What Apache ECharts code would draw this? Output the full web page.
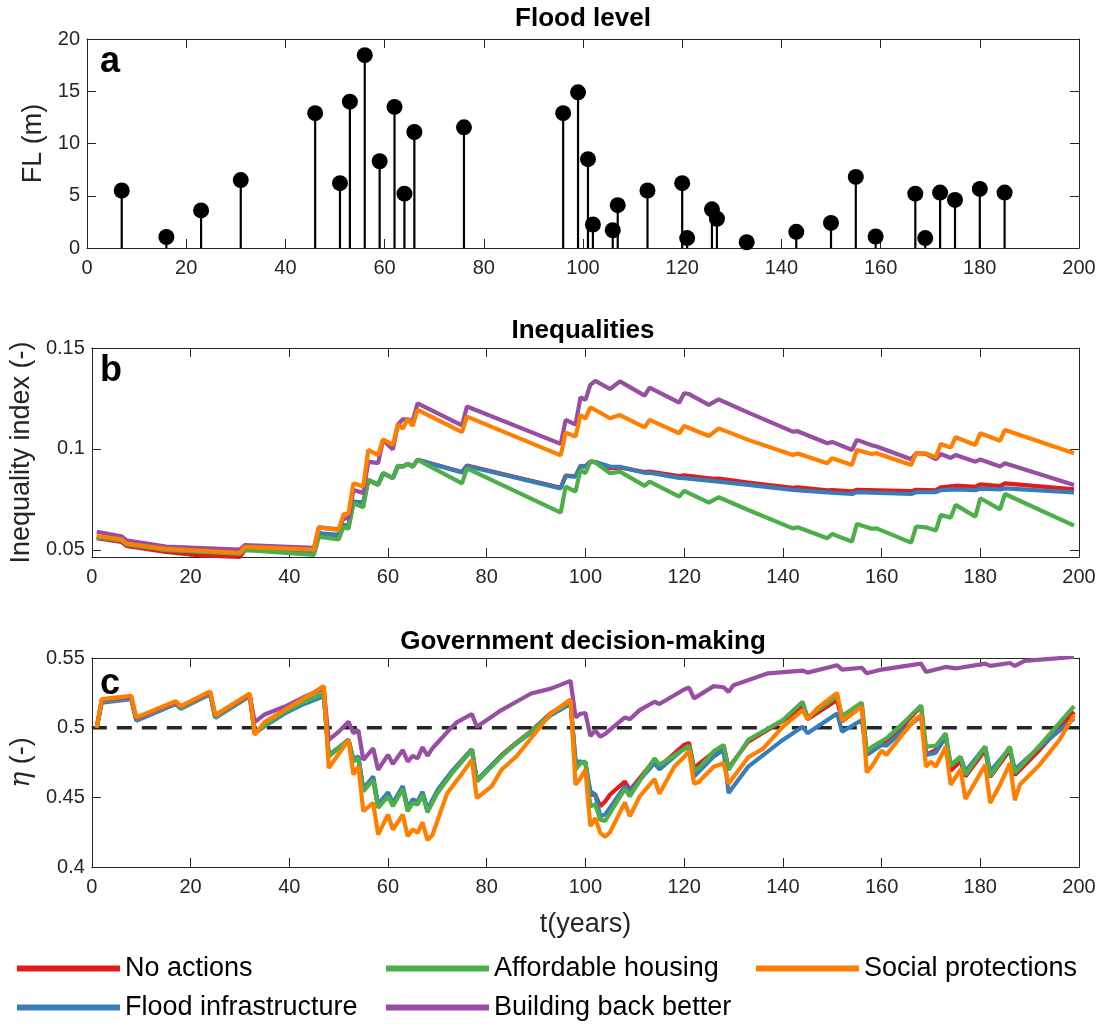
<!DOCTYPE html>
<html><head><meta charset="utf-8">
<script src="https://cdn.jsdelivr.net/npm/echarts@6/dist/echarts.min.js"></script>
<style>html,body{margin:0;padding:0;background:#fff}#c{width:1100px;height:1025px}</style>
</head><body><div id="c"></div>
<script>
// ---------- DATA ----------
const floodYears  = [7,16,23,31,46,51,53,56,59,62,64,66,76,96,99,101,102,106,107,113,120,121,126,127,133,143,150,155,159,167,169,172,175,180,185];
const floodLevels = [5.5,1.05,3.6,6.5,12.9,6.2,14.0,18.45,8.3,13.5,5.2,11.1,11.55,12.9,14.9,8.5,2.25,1.7,4.1,5.5,6.2,0.95,3.7,2.8,0.55,1.55,2.4,6.8,1.1,5.2,0.95,5.3,4.6,5.65,5.3];
const flTicks = [0,5,10,15,20];
const ineqTicks = [0.05,0.1,0.15];
const etaTicks = [0.4,0.45,0.5,0.55];
const etaThreshold = 0.5;
const seriesNames = ['No actions','Flood infrastructure','Affordable housing','Building back better','Social protections'];

// Inequality index (panel b) [t, value]
const ineqNoActions = [[1,0.0558],[6,0.0540],[7,0.0520],[15,0.0490],[22,0.0473],[30,0.0466],[31,0.0500],[45,0.0490],[46,0.0580],[50,0.0572],[51,0.0622],[52,0.0618],[53,0.0738],[55,0.0733],[56,0.0845],[58,0.0822],[59,0.0880],[61,0.0856],[62,0.0916],[63,0.0913],[64,0.0927],[65,0.0913],[66,0.0947],[75,0.0886],[76,0.0918],[95,0.0808],[96,0.0868],[98,0.0865],[99,0.0916],[100,0.0914],[101,0.0938],[102,0.0935],[105,0.0905],[107,0.0908],[112,0.0885],[113,0.0888],[119,0.0866],[120,0.0870],[126,0.0852],[127,0.0853],[133,0.0833],[142,0.0808],[143,0.0810],[149,0.0795],[150,0.0796],[154,0.0790],[155,0.0798],[166,0.0791],[167,0.0798],[171,0.0795],[172,0.0810],[175,0.0818],[179,0.0812],[180,0.0825],[184,0.0816],[185,0.0830],[199,0.0800]];
const ineqFloodInfra = [[1,0.0563],[6,0.0547],[7,0.0527],[15,0.0500],[30,0.0483],[31,0.0505],[45,0.0493],[46,0.0583],[50,0.0575],[51,0.0625],[52,0.0620],[53,0.0740],[55,0.0735],[56,0.0847],[58,0.0823],[59,0.0880],[61,0.0855],[62,0.0916],[63,0.0912],[64,0.0926],[65,0.0912],[66,0.0946],[75,0.0883],[76,0.0916],[95,0.0805],[96,0.0866],[98,0.0863],[99,0.0915],[100,0.0913],[101,0.0937],[102,0.0935],[105,0.0913],[107,0.0912],[112,0.0882],[113,0.0882],[119,0.0857],[120,0.0856],[127,0.0838],[133,0.0822],[142,0.0797],[149,0.0785],[154,0.0777],[155,0.0786],[166,0.0777],[167,0.0786],[171,0.0786],[172,0.0796],[175,0.0800],[179,0.0796],[180,0.0804],[184,0.0800],[185,0.0805],[199,0.0785]];
const ineqHousing = [[1,0.0563],[6,0.0547],[7,0.0527],[15,0.0500],[30,0.0482],[31,0.0500],[45,0.0475],[46,0.0566],[50,0.0552],[51,0.0615],[52,0.0605],[53,0.0731],[55,0.0711],[56,0.0847],[58,0.0822],[59,0.0880],[61,0.0855],[62,0.0916],[63,0.0912],[64,0.0926],[65,0.0912],[66,0.0946],[75,0.0830],[76,0.0904],[95,0.0685],[96,0.0814],[98,0.0789],[99,0.0896],[100,0.0880],[101,0.0937],[102,0.0933],[105,0.0880],[107,0.0888],[112,0.0817],[113,0.0838],[119,0.0764],[120,0.0792],[125,0.0734],[127,0.0761],[133,0.0698],[142,0.0607],[143,0.0612],[149,0.0558],[150,0.0579],[154,0.0541],[155,0.0629],[158,0.0605],[159,0.0607],[166,0.0536],[167,0.0616],[169,0.0612],[171,0.0596],[172,0.0673],[174,0.0660],[175,0.0723],[179,0.0665],[180,0.0756],[184,0.0701],[185,0.0777],[199,0.0620]];
const ineqBBB = [[1,0.0590],[6,0.0568],[7,0.0547],[15,0.0517],[30,0.0502],[31,0.0524],[45,0.0510],[46,0.0612],[50,0.0602],[51,0.0657],[52,0.0655],[53,0.0797],[55,0.0782],[56,0.0937],[58,0.0930],[59,0.1045],[61,0.0998],[62,0.1120],[63,0.1147],[64,0.1147],[65,0.1138],[66,0.1226],[75,0.1117],[76,0.1210],[95,0.1025],[96,0.1144],[98,0.1120],[99,0.1256],[100,0.1243],[101,0.1317],[102,0.1337],[105,0.1297],[107,0.1335],[112,0.1264],[113,0.1304],[119,0.1229],[120,0.1276],[121,0.1272],[125,0.1218],[127,0.1246],[133,0.1180],[142,0.1086],[143,0.1088],[149,0.1028],[150,0.1035],[154,0.0995],[155,0.1045],[158,0.1018],[159,0.1012],[166,0.0949],[167,0.0979],[169,0.0975],[171,0.0949],[172,0.0975],[174,0.0955],[175,0.0970],[179,0.0937],[180,0.0948],[184,0.0913],[185,0.0929],[199,0.0822]];
const ineqSocial = [[1,0.0569],[6,0.0553],[7,0.0532],[15,0.0505],[30,0.0486],[31,0.0515],[45,0.0502],[46,0.0612],[50,0.0599],[51,0.0677],[52,0.0680],[53,0.0830],[55,0.0814],[56,0.0995],[58,0.0970],[59,0.1048],[61,0.1020],[62,0.1122],[63,0.1100],[64,0.1149],[65,0.1114],[66,0.1193],[75,0.1083],[76,0.1160],[95,0.0968],[96,0.1081],[98,0.1061],[99,0.1168],[100,0.1150],[101,0.1206],[102,0.1193],[105,0.1152],[107,0.1168],[112,0.1107],[113,0.1144],[119,0.1078],[120,0.1114],[125,0.1064],[127,0.1102],[133,0.1045],[142,0.0970],[143,0.0978],[149,0.0929],[150,0.0954],[154,0.0921],[155,0.0995],[158,0.0975],[159,0.0979],[166,0.0921],[167,0.0979],[169,0.0978],[171,0.0959],[172,0.1025],[174,0.1007],[175,0.1058],[179,0.1020],[180,0.1078],[184,0.1041],[185,0.1094],[199,0.0979]];

// Government decision-making eta (panel c) [t, value]
const etaNoActions = [[1,0.500],[2,0.519],[8,0.521],[9,0.506],[17,0.5175],[18,0.514],[24,0.5245],[25,0.5075],[32,0.523],[33,0.496],[35,0.5015],[39,0.5108],[43,0.518],[47,0.524],[48,0.4795],[52,0.4915],[53,0.4765],[54,0.4785],[55,0.4555],[57,0.4635],[58,0.4435],[60,0.452],[61,0.4448],[63,0.457],[64,0.441],[65,0.4472],[66,0.4458],[67,0.4528],[68,0.4405],[70,0.454],[73,0.4684],[77,0.4845],[78,0.462],[81,0.4728],[83,0.4803],[86,0.4893],[89,0.4975],[93,0.5105],[97,0.518],[98,0.4745],[99,0.4748],[100,0.475],[101,0.452],[102,0.452],[103,0.4436],[104,0.447],[105,0.452],[108,0.4614],[109,0.455],[114,0.477],[115,0.472],[120,0.4876],[121,0.489],[122,0.4712],[126,0.4825],[128,0.487],[129,0.471],[133,0.490],[140,0.505],[144,0.515],[145,0.506],[151,0.5198],[152,0.5045],[156,0.5155],[157,0.4805],[160,0.488],[164,0.500],[168,0.5155],[169,0.4805],[171,0.484],[173,0.494],[174,0.469],[176,0.476],[177,0.465],[181,0.484],[182,0.4645],[186,0.484],[187,0.466],[192,0.484],[199,0.5114]];
const etaFloodInfra = [[1,0.500],[2,0.518],[8,0.5205],[9,0.505],[17,0.517],[18,0.5135],[24,0.524],[25,0.507],[32,0.5225],[33,0.496],[35,0.501],[39,0.510],[43,0.517],[47,0.5225],[48,0.4805],[52,0.491],[53,0.477],[54,0.4795],[55,0.456],[57,0.465],[58,0.445],[60,0.4535],[61,0.446],[63,0.458],[64,0.4425],[65,0.4485],[66,0.447],[67,0.454],[68,0.4415],[70,0.455],[73,0.469],[77,0.4845],[78,0.4625],[81,0.473],[83,0.480],[86,0.4885],[89,0.4965],[93,0.509],[97,0.517],[98,0.4757],[99,0.4757],[100,0.4745],[101,0.4543],[102,0.452],[103,0.4364],[104,0.4376],[108,0.4579],[109,0.4543],[114,0.4745],[115,0.470],[120,0.4852],[121,0.4864],[122,0.465],[126,0.4793],[128,0.484],[129,0.4531],[133,0.4721],[140,0.4912],[144,0.5007],[145,0.496],[151,0.5102],[152,0.4971],[156,0.5055],[157,0.4805],[160,0.4876],[161,0.487],[164,0.497],[168,0.5083],[169,0.4805],[171,0.482],[173,0.4935],[174,0.4733],[176,0.479],[177,0.4686],[181,0.4864],[182,0.4686],[186,0.4852],[187,0.470],[192,0.486],[199,0.5067]];
const etaHousing = [[1,0.500],[2,0.519],[8,0.521],[9,0.506],[17,0.5175],[18,0.514],[24,0.5245],[25,0.5075],[32,0.523],[33,0.496],[35,0.502],[39,0.5114],[43,0.5186],[47,0.5245],[48,0.4793],[52,0.4912],[53,0.4757],[54,0.478],[55,0.4543],[57,0.4626],[58,0.4424],[60,0.4507],[61,0.4436],[63,0.456],[64,0.440],[65,0.446],[66,0.4448],[67,0.4519],[68,0.4393],[70,0.453],[73,0.4674],[77,0.484],[78,0.4614],[81,0.4721],[83,0.4793],[86,0.4888],[89,0.4971],[93,0.5102],[97,0.5186],[98,0.4698],[99,0.4745],[100,0.4757],[101,0.4436],[102,0.4448],[103,0.434],[104,0.433],[108,0.456],[109,0.4507],[112,0.4674],[114,0.478],[115,0.4733],[120,0.4845],[121,0.487],[122,0.470],[123,0.471],[126,0.483],[128,0.4876],[129,0.4698],[133,0.4912],[140,0.5055],[144,0.5186],[145,0.5074],[151,0.5226],[152,0.5083],[156,0.518],[157,0.483],[158,0.486],[161,0.4924],[164,0.502],[168,0.516],[169,0.4864],[171,0.487],[173,0.496],[174,0.4726],[176,0.479],[177,0.4662],[181,0.4864],[182,0.465],[186,0.4864],[187,0.4674],[192,0.487],[199,0.5155]];
const etaBBB = [[1,0.500],[2,0.5195],[8,0.5215],[9,0.5065],[17,0.518],[18,0.515],[24,0.525],[25,0.5085],[32,0.5235],[33,0.504],[35,0.5095],[39,0.515],[43,0.522],[47,0.528],[48,0.4912],[50,0.497],[52,0.5043],[53,0.496],[54,0.4983],[55,0.4769],[57,0.4852],[58,0.4698],[60,0.4805],[61,0.474],[63,0.484],[64,0.4757],[65,0.4798],[66,0.478],[67,0.486],[68,0.4798],[69,0.4852],[70,0.489],[73,0.5007],[74,0.504],[77,0.5098],[78,0.5007],[81,0.5079],[83,0.5126],[86,0.5186],[89,0.5245],[93,0.528],[97,0.5336],[98,0.5074],[99,0.510],[100,0.5105],[101,0.494],[102,0.498],[103,0.4936],[104,0.4955],[108,0.5074],[109,0.506],[111,0.5126],[114,0.5186],[115,0.517],[120,0.5274],[121,0.5288],[122,0.521],[126,0.5298],[128,0.529],[129,0.5257],[130,0.5305],[137,0.539],[144,0.541],[145,0.5395],[151,0.5448],[152,0.5417],[156,0.543],[157,0.539],[160,0.5417],[168,0.546],[169,0.540],[173,0.5436],[175,0.5425],[181,0.546],[182,0.5443],[186,0.5464],[187,0.5443],[189,0.548],[199,0.5507]];
const etaSocial = [[1,0.500],[2,0.5205],[8,0.5229],[9,0.5074],[17,0.519],[18,0.5155],[24,0.526],[25,0.509],[32,0.5245],[33,0.4948],[35,0.504],[39,0.5126],[43,0.521],[47,0.5298],[48,0.471],[52,0.4912],[53,0.4662],[54,0.472],[55,0.440],[57,0.446],[58,0.4233],[60,0.4376],[61,0.4269],[63,0.4376],[64,0.4221],[65,0.4269],[66,0.4245],[67,0.4321],[68,0.4193],[69,0.423],[72,0.453],[75,0.467],[77,0.4769],[78,0.4495],[81,0.4579],[83,0.4698],[86,0.4793],[89,0.4924],[93,0.5102],[97,0.5202],[98,0.459],[99,0.4638],[100,0.4698],[101,0.4293],[102,0.435],[103,0.4245],[104,0.4217],[105,0.425],[108,0.4464],[109,0.4364],[111,0.4507],[114,0.463],[115,0.4526],[118,0.472],[120,0.479],[121,0.4836],[122,0.4598],[123,0.4612],[126,0.472],[128,0.4745],[129,0.4598],[133,0.4788],[136,0.485],[140,0.5007],[144,0.5126],[145,0.506],[147,0.514],[151,0.525],[152,0.505],[156,0.515],[157,0.4679],[158,0.472],[160,0.4836],[161,0.4805],[164,0.494],[167,0.5067],[168,0.5085],[169,0.472],[170,0.4755],[171,0.472],[173,0.4864],[174,0.459],[176,0.470],[177,0.4488],[181,0.4733],[182,0.446],[184,0.459],[186,0.4745],[187,0.4479],[188,0.459],[192,0.4733],[196,0.491],[199,0.509]];

// ---------- STYLE ----------
const colors = {'No actions':'#e41a1c','Flood infrastructure':'#377eb8','Affordable housing':'#4daf4a','Building back better':'#984ea3','Social protections':'#ff7f00'};
const FONT = '"Liberation Sans", Arial, Helvetica, sans-serif';
const AX = '#262626';
const L = 87, R = 21, H = 209;
const tops = [39, 348, 658];

const chart = echarts.init(document.getElementById('c'), null, {renderer:'canvas'});

function xAxes(gi){
  return [
    {gridIndex:gi, type:'value', min:0, max:200, interval:20, position:'bottom',
     axisLine:{show:true,onZero:false,lineStyle:{color:AX,width:1}},
     axisTick:{show:true,inside:true,length:9,lineStyle:{color:AX}},
     axisLabel:{show:true,color:AX,fontSize:20,fontFamily:FONT,margin:10},
     splitLine:{show:false},
     name: gi===2 ? 't(years)' : '', nameLocation:'middle', nameGap:44,
     nameTextStyle:{fontSize:27,color:AX,fontFamily:FONT}},
    {gridIndex:gi, type:'value', min:0, max:200, interval:20, position:'top',
     axisLine:{show:true,onZero:false,lineStyle:{color:AX,width:1}},
     axisTick:{show:true,inside:true,length:9,lineStyle:{color:AX}},
     axisLabel:{show:false}, splitLine:{show:false}}
  ];
}
function yAxes(gi, cfg){
  const base = {gridIndex:gi, type:'value', min:cfg.min, max:cfg.max,
     axisLine:{show:true,onZero:false,lineStyle:{color:AX,width:1}},
     splitLine:{show:false}};
  return [
    Object.assign({}, base, {position:'left',
      axisTick:{show:true,inside:true,length:9,lineStyle:{color:AX},customValues:cfg.ticks},
      axisLabel:{show:true,color:AX,fontSize:20,fontFamily:FONT,margin:7,customValues:cfg.ticks,
        formatter:v=>String(+v.toFixed(4))},
      name:cfg.name, nameLocation:'middle', nameGap:cfg.gap, nameRotate:90,
      nameTextStyle:{fontSize:27,color:AX,fontFamily:FONT,rich:cfg.rich}}),
    Object.assign({}, base, {position:'right',
      axisTick:{show:true,inside:true,length:9,lineStyle:{color:AX},customValues:cfg.ticks},
      axisLabel:{show:false}})
  ];
}

const xAxis = [].concat(xAxes(0), xAxes(1), xAxes(2));
const yAxis = [].concat(
  yAxes(0,{min:0,max:20,ticks:flTicks,name:'FL (m)',gap:33}),
  yAxes(1,{min:0.0465,max:0.15,ticks:ineqTicks,name:'Inequality index (-)',gap:50}),
  yAxes(2,{min:0.4,max:0.55,ticks:etaTicks,name:'{eta|η} (-)',gap:43,
    rich:{eta:{fontStyle:'italic',fontFamily:'"DejaVu Serif", "Liberation Serif", serif',fontSize:27,color:AX}}})
);

const stemData = floodYears.map((t,i)=>[t, floodLevels[i]]);
const series = [
  {type:'custom', xAxisIndex:0, yAxisIndex:0, data:stemData, silent:true,
   renderItem:(params, api)=>{
     const p0 = api.coord([api.value(0), 0]);
     const p1 = api.coord([api.value(0), api.value(1)]);
     return {type:'line', shape:{x1:p0[0],y1:p0[1],x2:p1[0],y2:p1[1]}, style:{stroke:'#000',lineWidth:2.2}};
   }},
  {type:'scatter', xAxisIndex:0, yAxisIndex:0, data:stemData, symbol:'circle', symbolSize:16,
   itemStyle:{color:'#000', opacity:1}, silent:true, z:3}
];
const ineqData = {'No actions':ineqNoActions,'Flood infrastructure':ineqFloodInfra,'Affordable housing':ineqHousing,'Building back better':ineqBBB,'Social protections':ineqSocial};
const etaData = {'No actions':etaNoActions,'Flood infrastructure':etaFloodInfra,'Affordable housing':etaHousing,'Building back better':etaBBB,'Social protections':etaSocial};
seriesNames.forEach(n=>{
  series.push({type:'line', name:n, xAxisIndex:2, yAxisIndex:2, data:ineqData[n], showSymbol:false,
    color:colors[n], lineStyle:{width:4.2,color:colors[n]}, itemStyle:{color:colors[n]}, clip:true, silent:true});
});
series.push({type:'line', xAxisIndex:4, yAxisIndex:4, data:[[0,etaThreshold],[200,etaThreshold]], showSymbol:false,
  lineStyle:{color:AX,width:3.5,type:[15,10]}, silent:true, z:1});
seriesNames.forEach(n=>{
  series.push({type:'line', name:n, xAxisIndex:4, yAxisIndex:4, data:etaData[n], showSymbol:false,
    color:colors[n], lineStyle:{width:4.2,color:colors[n]}, itemStyle:{color:colors[n]}, clip:true, silent:true, z:2});
});

function leg(name, left, top){
  return {data:[name], left:left, top:top, orient:'horizontal', icon:'rect', itemWidth:103, itemHeight:6,
    padding:0, selectedMode:false, textStyle:{fontSize:27,color:'#000',fontFamily:FONT}};
}

const titleFont = 'bold 26px ' + FONT;
const letterFont = 'bold 36px ' + FONT;
const cx = L + (1100 - L - R)/2;
chart.setOption({
  animation:false,
  backgroundColor:'#fff',
  grid: tops.map(t=>({left:L, right:R, top:t, height:H, containLabel:false})),
  xAxis, yAxis, series,
  legend:[
    leg('No actions',17,955), leg('Affordable housing',386,955), leg('Social protections',756,955),
    leg('Flood infrastructure',17,994), leg('Building back better',386,994)
  ],
  graphic:[
    {type:'text', x:cx, y:19, style:{text:'Flood level', font:titleFont, fill:'#000', align:'center', verticalAlign:'middle'}},
    {type:'text', x:cx, y:331, style:{text:'Inequalities', font:titleFont, fill:'#000', align:'center', verticalAlign:'middle'}},
    {type:'text', x:cx, y:642, style:{text:'Government decision-making', font:titleFont, fill:'#000', align:'center', verticalAlign:'middle'}},
    {type:'text', x:100, y:62, z:100, style:{text:'a', font:letterFont, fill:'#000', align:'left', verticalAlign:'middle'}},
    {type:'text', x:100, y:371, z:100, style:{text:'b', font:letterFont, fill:'#000', align:'left', verticalAlign:'middle'}},
    {type:'text', x:100, y:684, z:100, style:{text:'c', font:letterFont, fill:'#000', align:'left', verticalAlign:'middle'}}
  ]
});
</script></body></html>
